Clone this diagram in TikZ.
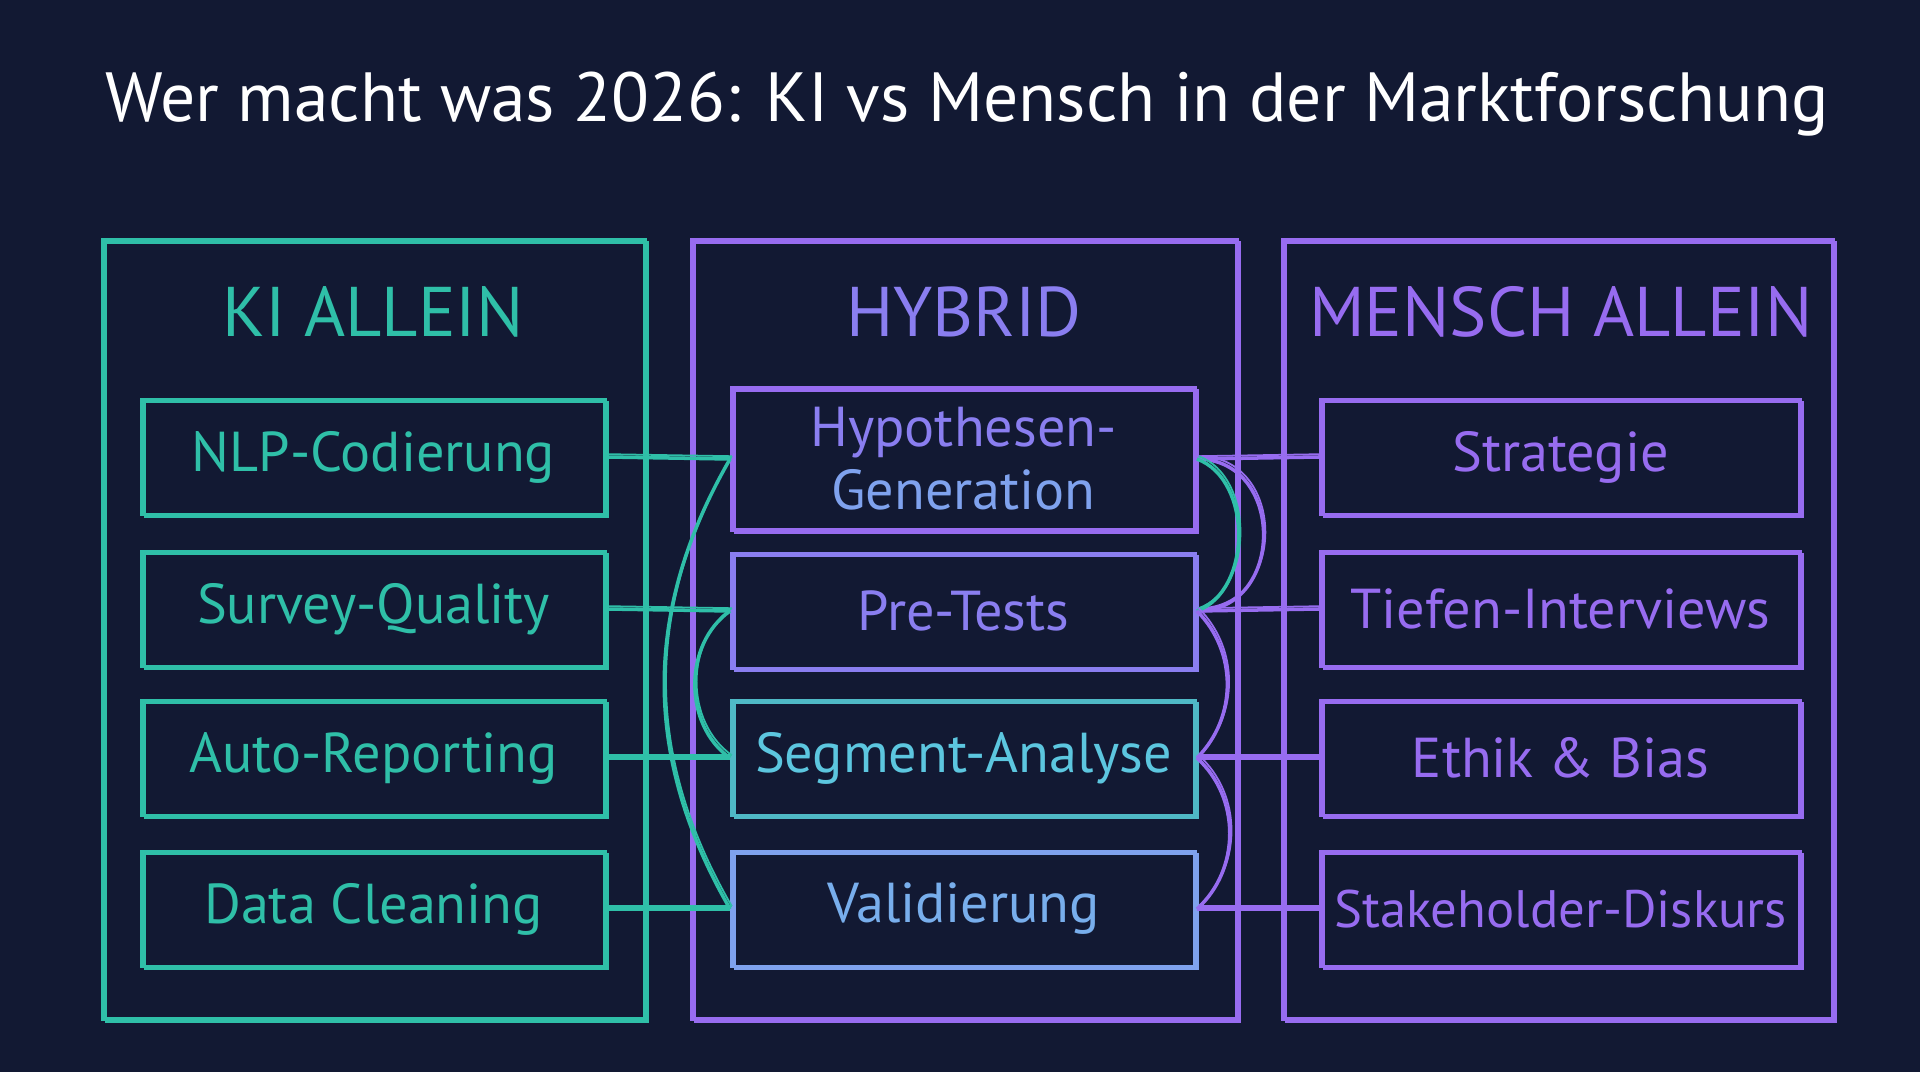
\documentclass[tikz,border=0pt]{standalone}
\usepackage{fontspec}
\setmainfont{PT Sans}
\usetikzlibrary{arrows.meta,positioning,calc}
\definecolor{bgnavy}{HTML}{121933}
\definecolor{kiteal}{HTML}{2FBFA8}
\definecolor{mepurple}{HTML}{976CF0}
\definecolor{hyblue}{HTML}{8A7EF0}
\definecolor{genblue}{HTML}{7FA2EE}
\definecolor{segcyan}{HTML}{5CC6DF}
\definecolor{valblue}{HTML}{78AEEC}
\definecolor{segline}{HTML}{4FB9C6}

\begin{document}
\begin{tikzpicture} [
  sketch/.style= {draw,line width=1.1pt,postaction={draw,line width=0.6pt,transform canvas={shift={(0.8pt,-0.7pt)}}}},
  col box/.style= {sketch,minimum height=7.79cm,inner sep=0pt},
  head/.style= {font=\fontsize{20}{24}\selectfont},
  task box/.style= {sketch,fill=bgnavy,minimum height=1.15cm,inner sep=1pt,align=center,font=\fontsize{16}{18}\selectfont},
  ki box/.style= {task box,draw=kiteal,text=kiteal,minimum width=4.63cm},
  hy box/.style= {task box,minimum width=4.63cm},
  me box/.style= {task box,draw=mepurple,text=mepurple,minimum width=4.79cm},
  link/.style= {line width=1pt,postaction={draw,line width=0.5pt,transform canvas={shift={(0.5pt,0.8pt)}}}}
]
\fill [bgnavy] (0,0) rectangle (19.2,-10.72);
\useasboundingbox (0,0) rectangle (19.2,-10.72);

\node (title) [white,font=\fontsize{19.8}{24}\selectfont] at (9.67,-1.04) {Wer macht was 2026: KI vs Mensch in der Marktforschung};

\node (kicol) [col box,draw=kiteal,minimum width=5.42cm] at (3.74,-6.295) {};
\node (hycol) [col box,draw=mepurple,minimum width=5.45cm] at (9.645,-6.295) {};
\node (mecol) [col box,draw=mepurple,minimum width=5.50cm] at (15.58,-6.295) {};

\node (kihead) [head,kiteal] at (3.73,-3.12) {KI ALLEIN};
\node (hyhead) [head,hyblue] at (9.64,-3.12) {HYBRID};
\node (mehead) [head,mepurple] at (15.61,-3.12) {MENSCH ALLEIN};

\node (nlp) [ki box] at (3.735,-4.57) {NLP-Codierung};
\node (survey) [ki box] at (3.735,-6.09) {Survey-Quality};
\node (report) [ki box] at (3.735,-7.58) {Auto-Reporting};
\node (clean) [ki box] at (3.735,-9.09) {Data Cleaning};

\node (hyp) [hy box,draw=mepurple,minimum height=1.42cm] at (9.635,-4.59) {{\color{hyblue}Hypothesen-}\\{\color{genblue}Generation}};
\node (pre) [hy box,draw=hyblue,text=hyblue] at (9.635,-6.11) {Pre-Tests};
\node (seg) [hy box,draw=segline,text=segcyan] at (9.635,-7.58) {Segment-Analyse};
\node (val) [hy box,draw=genblue,text=valblue] at (9.635,-9.09) {Validierung};

\node (strat) [me box] at (15.605,-4.57) {Strategie};
\node (tiefen) [me box] at (15.605,-6.09) {Tiefen-Interviews};
\node (ethik) [me box] at (15.605,-7.58) {Ethik \& Bias};
\node (stake) [me box,font=\fontsize{15}{18}\selectfont] at (15.605,-9.09) {Stakeholder-Diskurs};

\draw [link,kiteal] (nlp.east) -- (hyp.west);
\draw [link,kiteal] (survey.east) -- (pre.west);
\draw [link,kiteal] (report.east) -- (seg.west);
\draw [link,kiteal] (clean.east) -- (val.west);
\draw [link,kiteal] (hyp.west) to[bend right=30] (val.west);
\draw [link,kiteal] (pre.west) to[bend right=55] (seg.west);

\draw [link,mepurple] (hyp.east) -- (strat.west);
\draw [link,mepurple] (pre.east) -- (tiefen.west);
\draw [link,mepurple] (seg.east) -- (ethik.west);
\draw [link,mepurple] (val.east) -- (stake.west);
\draw [link,mepurple] (hyp.east) to[out=0,in=0,looseness=1.5] (pre.east);
\draw [link,kiteal] (hyp.east) to[bend left=70] (pre.east);
\draw [link,mepurple] (pre.east) to[bend left=45] (seg.east);
\draw [link,mepurple] (seg.east) to[bend left=48] (val.east);
\end{tikzpicture}
\end{document}
